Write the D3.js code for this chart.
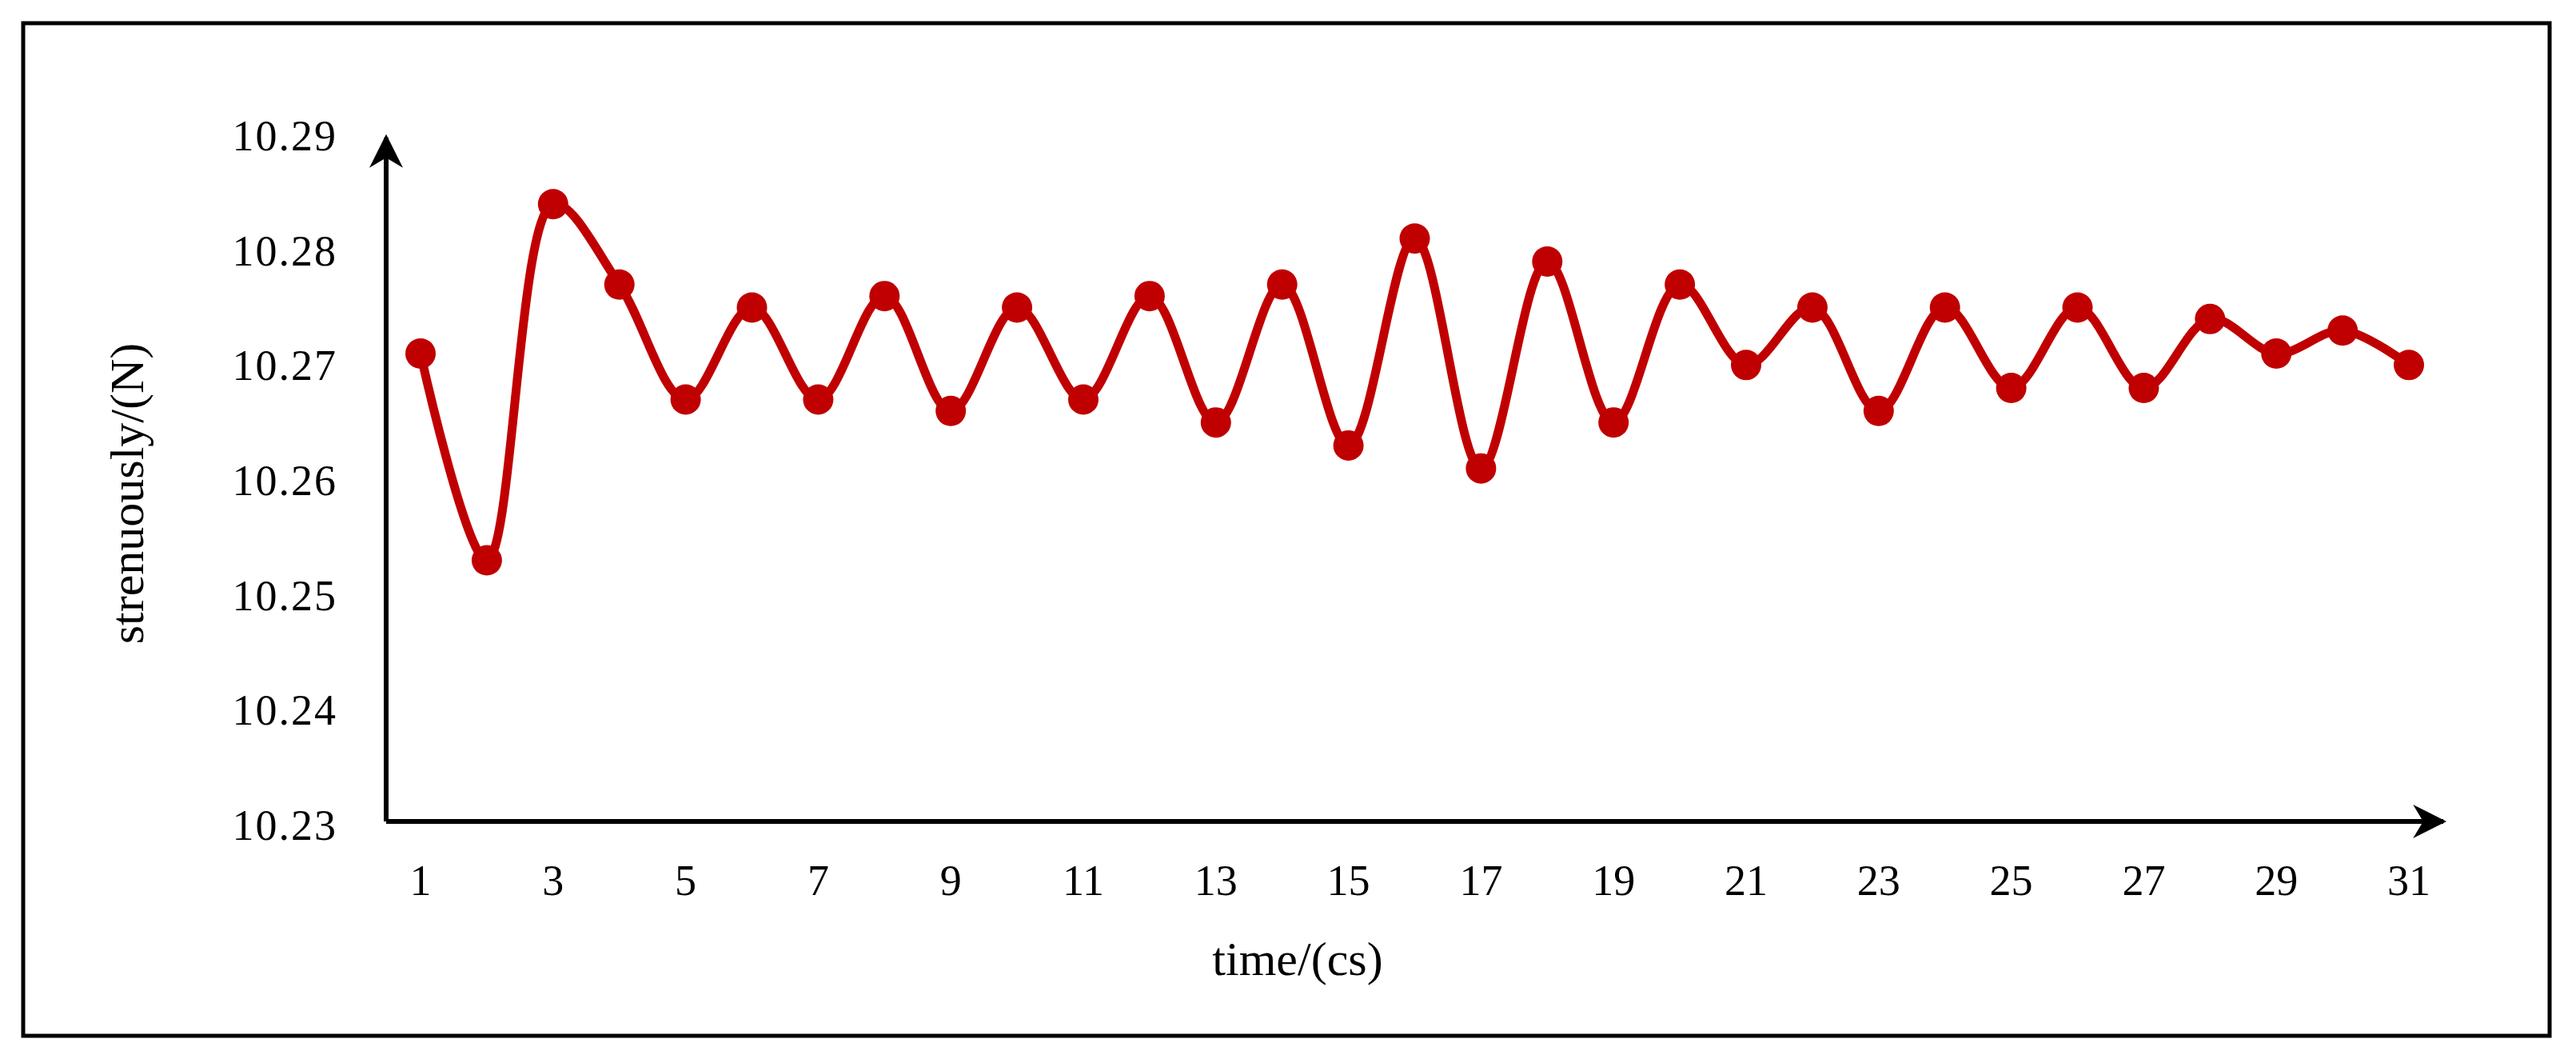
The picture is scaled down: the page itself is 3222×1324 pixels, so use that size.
<!DOCTYPE html>
<html><head><meta charset="utf-8">
<script src="https://cdn.jsdelivr.net/npm/d3@7"></script>
<style>body{margin:0;background:#fff}text{font-family:"Liberation Serif","Times New Roman",serif}</style>
</head><body>
<script>
var width = 3222, height = 1324;

var times = d3.range(1, 32);
var values = [10.271, 10.253, 10.284, 10.277, 10.267, 10.275, 10.267, 10.276, 10.266, 10.275,
              10.267, 10.276, 10.265, 10.277, 10.263, 10.281, 10.261, 10.279, 10.265, 10.277,
              10.270, 10.275, 10.266, 10.275, 10.268, 10.275, 10.268, 10.274, 10.271, 10.273, 10.270];
var xTicks = d3.range(1, 32, 2);
var yTicks = [10.23, 10.24, 10.25, 10.26, 10.27, 10.28, 10.29];

var svg = d3.select("body").append("svg")
    .attr("width", width).attr("height", height);

// outer frame
svg.append("rect").attr("x", 29).attr("y", 29).attr("width", 3160).attr("height", 1266)
    .attr("fill", "none").attr("stroke", "#000").attr("stroke-width", 5);

var x = d3.scaleLinear().domain([1, 31]).range([526, 3013]);
var y = d3.scaleLinear().domain([10.23, 10.29]).range([1031, 169]);

var axisX = 483, axisY = 1027;

// axes with arrows
svg.append("defs").append("marker")
    .attr("id", "arrow").attr("viewBox", "0 0 10 10").attr("refX", 9).attr("refY", 5)
    .attr("markerWidth", 7).attr("markerHeight", 7).attr("orient", "auto")
  .append("path").attr("d", "M0,0 L10,5 L0,10 L3,5 Z").attr("fill", "#000");

svg.append("line").attr("x1", axisX).attr("y1", axisY).attr("x2", axisX).attr("y2", 172)
    .attr("stroke", "#000").attr("stroke-width", 6).attr("marker-end", "url(#arrow)");
svg.append("line").attr("x1", axisX).attr("y1", axisY).attr("x2", 3056).attr("y2", axisY)
    .attr("stroke", "#000").attr("stroke-width", 6).attr("marker-end", "url(#arrow)");

// tick labels
svg.append("g").selectAll("text").data(yTicks).join("text")
    .attr("x", 422).attr("y", d => y(d)).attr("dy", "0.35em")
    .attr("text-anchor", "end").attr("font-size", 54).attr("letter-spacing", 2)
    .text(d => d.toFixed(2));

svg.append("g").selectAll("text").data(xTicks).join("text")
    .attr("x", d => x(d)).attr("y", 1100).attr("dy", "0.35em")
    .attr("text-anchor", "middle").attr("font-size", 54)
    .text(d => d);

// axis titles
svg.append("text").attr("x", 1623).attr("y", 1198).attr("dy", "0.35em")
    .attr("text-anchor", "middle").attr("font-size", 60).text("time/(cs)");
svg.append("text").attr("transform", "translate(158,617) rotate(-90)").attr("dy", "0.35em")
    .attr("text-anchor", "middle").attr("font-size", 60).text("strenuously/(N)");

// series
var line = d3.line().x((d, i) => x(times[i])).y(d => y(d)).curve(d3.curveCatmullRom.alpha(0.5));
svg.append("path").datum(values).attr("d", line)
    .attr("fill", "none").attr("stroke", "#C00000").attr("stroke-width", 11);

svg.append("g").selectAll("circle").data(values).join("circle")
    .attr("cx", (d, i) => x(times[i])).attr("cy", d => y(d)).attr("r", 19)
    .attr("fill", "#C00000");
</script>
</body></html>
